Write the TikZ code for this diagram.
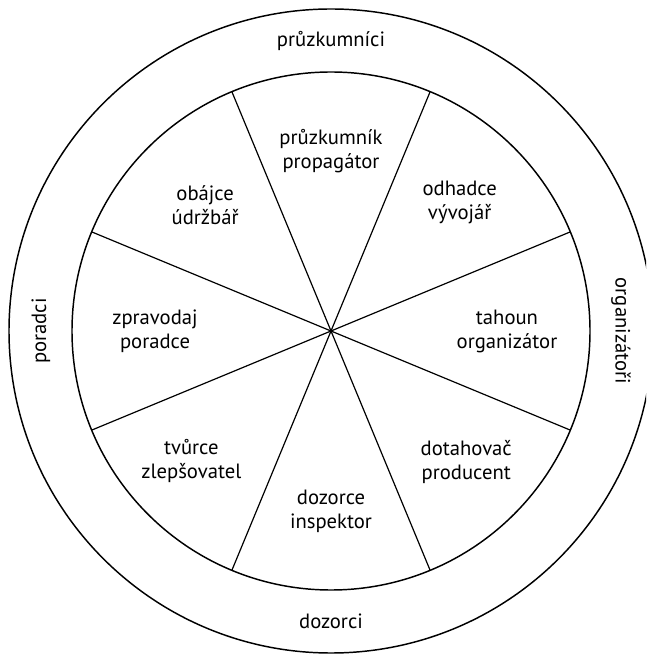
\documentclass[tikz,border=0pt]{standalone}
\usepackage{fontspec}
\setmainfont{PT Sans}
\usepackage{tikz}
\usetikzlibrary{positioning}

\begin{document}
\begin{tikzpicture}[
    x=0.75pt, y=0.75pt,
    ring/.style={draw, line width=1.1pt},
    spoke/.style={draw, line width=0.9pt},
    role/.style={align=center, font=\fontsize{15.5}{18}\selectfont, inner sep=1pt},
    group/.style={font=\fontsize{15.5}{18}\selectfont, inner sep=1pt}
]
    \useasboundingbox (-331,-324) rectangle (315,331);
    \clip (-331,-324) rectangle (315,331);

    % Circles
    \coordinate (centre) at (0,0);
    \draw[ring] (centre) circle (322);
    \draw[ring] (centre) circle (259);

    % Spokes
    \draw[spoke] (centre) -- (22.5:259);
    \draw[spoke] (centre) -- (67.5:259);
    \draw[spoke] (centre) -- (112.5:259);
    \draw[spoke] (centre) -- (157.5:259);
    \draw[spoke] (centre) -- (202.5:259);
    \draw[spoke] (centre) -- (247.5:259);
    \draw[spoke] (centre) -- (292.5:259);
    \draw[spoke] (centre) -- (337.5:259);

    % Roles
    \node[role] (pruzkumnik) at (90:180) {průzkumník\\propagátor};
    \node[role] (odhadce) at (45:182) {odhadce\\vývojář};
    \node[role] (tahoun) at (0:176) {tahoun\\organizátor};
    \node[role] (dotahovac) at (-44:188) {dotahovač\\producent};
    \node[role] (dozorce) at (-90:180) {dozorce\\inspektor};
    \node[role] (tvurce) at (-137:191) {tvůrce\\zlepšovatel};
    \node[role] (zpravodaj) at (180:176) {zpravodaj\\poradce};
    \node[role] (obajce) at (135:178) {obájce\\údržbář};

    % Groups
    \node[group] (pruzkumnici) at (90:290) {průzkumníci};
    \node[group, rotate=-90] (organizatori) at (0:290) {organizátoři};
    \node[group] (dozorci) at (-90:290) {dozorci};
    \node[group, rotate=90] (poradci) at (180:290) {poradci};
\end{tikzpicture}
\end{document}
